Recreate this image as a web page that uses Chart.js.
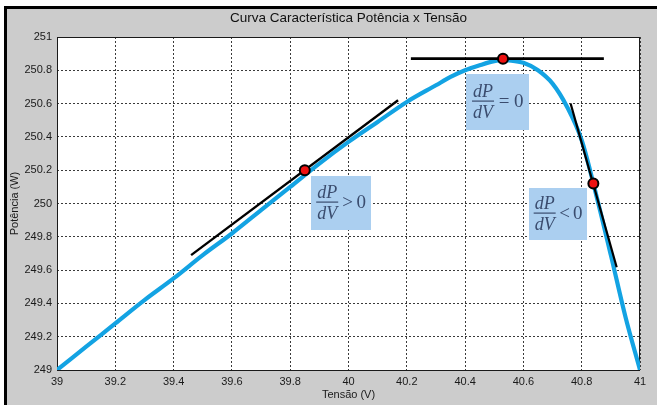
<!DOCTYPE html>
<html>
<head>
<meta charset="utf-8">
<script src="https://cdn.jsdelivr.net/npm/chart.js@4.4.1/dist/chart.umd.min.js"></script>
<style>
  html, body { margin: 0; padding: 0; background: #ffffff; width: 657px; height: 405px; overflow: hidden; }
  #frame { position: absolute; left: 4px; top: 6px; right: 0; bottom: 0; background: #cccccc;
           border-left: 3px solid #000; border-top: 3px solid #000; }
  #wrap { position: absolute; left: 0; top: 0; width: 657px; height: 405px; }
</style>
</head>
<body>
<div id="frame"></div>
<div id="wrap"><canvas id="c" width="657" height="405"></canvas></div>
<script>
// P x V curve of the module (V in volts, P in watts)
const tensao   = [39.0, 39.1, 39.2, 39.3, 39.4, 39.5, 39.6, 39.7, 39.8, 39.9, 40.0, 40.1, 40.2, 40.3, 40.35,
                  40.4, 40.45, 40.5, 40.53, 40.55, 40.6, 40.65, 40.7, 40.75, 40.8, 40.85, 40.9, 40.95, 41.0];
const potencia = [249.00, 249.14, 249.28, 249.42, 249.55, 249.69, 249.82, 249.96, 250.10, 250.24, 250.37,
                  250.49, 250.61, 250.71, 250.76, 250.80, 250.83, 250.855, 250.862, 250.86, 250.845, 250.80,
                  250.72, 250.58, 250.38, 250.05, 249.69, 249.32, 249.00];

// operating points where dP/dV is examined
const pontosV = [39.85, 40.53, 40.84];
const pontosP = [250.20, 250.87, 250.12];

// tangent segments through each operating point
const tangSubidaV  = [39.46, 40.17];
const tangSubidaP  = [249.69, 250.62];
const tangTopoV    = [40.214, 40.876];
const tangTopoP    = [250.87, 250.87];
const tangDescidaV = [40.762, 40.920];
const tangDescidaP = [250.60, 249.617];

// axis ticks
const xTickValues = [39, 39.2, 39.4, 39.6, 39.8, 40, 40.2, 40.4, 40.6, 40.8, 41];
const xTickLabels = ['39', '39.2', '39.4', '39.6', '39.8', '40', '40.2', '40.4', '40.6', '40.8', '41'];
const yTickValues = [249, 249.2, 249.4, 249.6, 249.8, 250, 250.2, 250.4, 250.6, 250.8, 251];
const yTickLabels = ['249', '249.2', '249.4', '249.6', '249.8', '250', '250.2', '250.4', '250.6', '250.8', '251'];

// derivative sign shown in each label box
const sinais = ['>', '=', '<'];

// label box placement (top-left corner in data units, size in px)
const caixas = [
  { v: 39.871, p: 250.165, w: 60, h: 54 },
  { v: 40.402, p: 250.776, w: 63, h: 56 },
  { v: 40.620, p: 250.095, w: 58, h: 52 }
];

const uiFont = "'Liberation Sans', Arial, sans-serif";
const mathFont = "'Liberation Serif', 'DejaVu Serif', serif";

const pares = (xs, ys) => xs.map((x, i) => ({ x: x, y: ys[i] }));

const fundoPlot = {
  id: 'fundoPlot',
  beforeDraw(chart) {
    const { ctx, chartArea: a } = chart;
    ctx.save();
    ctx.fillStyle = '#ffffff';
    ctx.fillRect(a.left, a.top, a.right - a.left, a.bottom - a.top);
    ctx.restore();
  },
  beforeDatasetsDraw(chart) {
    const { ctx, chartArea: a } = chart;
    ctx.save();
    ctx.strokeStyle = '#1a1a1a';
    ctx.lineWidth = 1;
    ctx.strokeRect(Math.round(a.left) + 0.5, Math.round(a.top) + 0.5,
                   Math.round(a.right - a.left) - 1, Math.round(a.bottom - a.top));
    ctx.restore();
  }
};

const rotulosDerivada = {
  id: 'rotulosDerivada',
  afterDatasetsDraw(chart) {
    const { ctx, scales: { x, y } } = chart;
    caixas.forEach((c, i) => {
      const L = Math.round(x.getPixelForValue(c.v));
      const T = Math.round(y.getPixelForValue(c.p));
      ctx.save();
      ctx.fillStyle = '#abcff0';
      ctx.fillRect(L, T, c.w, c.h);
      ctx.fillStyle = '#3a4c6e';
      const barY = T + Math.round(c.h * 0.48);
      const cx = L + c.w * 0.27;
      ctx.font = 'italic 18px ' + mathFont;
      ctx.textAlign = 'center';
      ctx.textBaseline = 'alphabetic';
      ctx.fillText('dP', cx, barY - 4);
      ctx.fillText('dV', cx, barY + 17);
      ctx.fillRect(cx - 11, barY - 0.5, 22, 1.2);
      ctx.font = '19px ' + mathFont;
      ctx.textAlign = 'left';
      ctx.textBaseline = 'middle';
      ctx.fillText(sinais[i], L + c.w * 0.52, barY + 1);
      ctx.fillText('0', L + c.w * 0.76, barY + 1);
      ctx.restore();
    });
  }
};

new Chart(document.getElementById('c'), {
  type: 'line',
  data: {
    datasets: [
      { data: pares(tensao, potencia), borderColor: '#13a3e3', borderWidth: 4.2, pointRadius: 0,
        cubicInterpolationMode: 'monotone', order: 3 },
      { data: pares(tangSubidaV, tangSubidaP), borderColor: '#000', borderWidth: 2.4, pointRadius: 0, order: 2 },
      { data: pares(tangTopoV, tangTopoP), borderColor: '#000', borderWidth: 2.6, pointRadius: 0, order: 2 },
      { data: pares(tangDescidaV, tangDescidaP), borderColor: '#000', borderWidth: 2.2, pointRadius: 0, order: 2 },
      { data: pares(pontosV, pontosP), showLine: false, pointRadius: 5, pointBackgroundColor: '#ee1111',
        pointBorderColor: '#000', pointBorderWidth: 2, order: 0 }
    ]
  },
  options: {
    responsive: false,
    animation: false,
    events: [],
    layout: { padding: { left: 0, right: 17, top: 0, bottom: 0 } },
    plugins: {
      legend: { display: false },
      tooltip: { enabled: false },
      title: {
        display: true,
        fullSize: false,
        text: 'Curva Característica Potência x Tensão',
        color: '#111',
        font: { family: uiFont, size: 13.5, weight: 'normal' },
        padding: { top: 10, bottom: 10.8 }
      }
    },
    scales: {
      x: {
        type: 'linear', min: 39, max: 41,
        afterBuildTicks: s => { s.ticks = xTickValues.map(v => ({ value: v })); },
        afterFit: s => { s.height = 35; },
        ticks: { callback: (v, i) => xTickLabels[i], color: '#1a1a1a', padding: 5, maxRotation: 0,
                 autoSkip: false, font: { family: uiFont, size: 11 } },
        grid: { color: '#3a3a3a', lineWidth: 1, drawTicks: false },
        border: { display: false, dash: [2, 2] },
        title: { display: true, text: 'Tensão (V)', color: '#1a1a1a',
                 font: { family: uiFont, size: 11 }, padding: { top: 0, bottom: 3 } }
      },
      y: {
        type: 'linear', min: 249, max: 251,
        afterBuildTicks: s => { s.ticks = yTickValues.map(v => ({ value: v })); },
        afterFit: s => { s.width = 57; },
        ticks: { callback: (v, i) => yTickLabels[i], color: '#1a1a1a', padding: 5,
                 autoSkip: false, font: { family: uiFont, size: 11 } },
        grid: { color: '#3a3a3a', lineWidth: 1, drawTicks: false },
        border: { display: false, dash: [2, 2] },
        title: { display: true, text: 'Potência (W)', color: '#1a1a1a',
                 font: { family: uiFont, size: 11 }, padding: { top: 8, bottom: 0 } }
      }
    }
  },
  plugins: [fundoPlot, rotulosDerivada]
});
</script>
</body>
</html>
